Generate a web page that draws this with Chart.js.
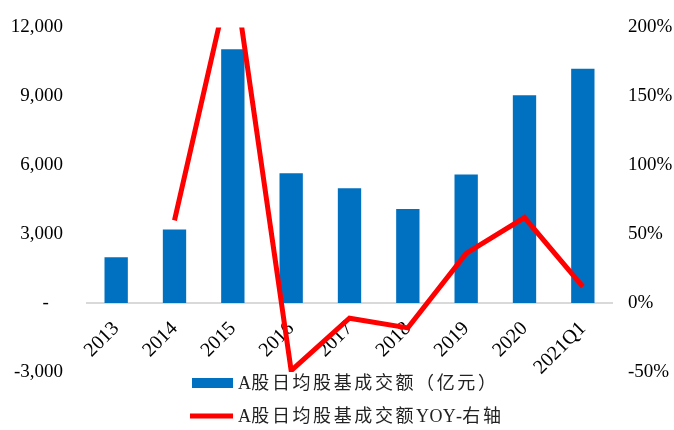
<!DOCTYPE html>
<html>
<head>
<meta charset="utf-8">
<script src="https://cdn.jsdelivr.net/npm/chart.js@4/dist/chart.umd.min.js"></script>
<style>
  html, body { margin: 0; padding: 0; background: #fff; }
</style>
</head>
<body>
<canvas id="myChart" width="674" height="430"></canvas>
<script>
const years = ['2013', '2014', '2015', '2016', '2017', '2018', '2019', '2020', '2021Q1']
const turnover = [2000, 3200, 11050, 5650, 5000, 4100, 5600, 9050, 10200]   // 亿元
const turnoverYoy = [null, 60, 245, -49, -11, -18, 36, 62, 12]               // %
const leftTicks = [-3000, 0, 3000, 6000, 9000, 12000]
const rightTicks = [-50, 0, 50, 100, 150, 200]
const barLabel = 'A股日均股基成交额（亿元）'
const lineLabel = 'A股日均股基成交额YOY-右轴'

const FONT = '"Liberation Serif", "Noto Sans CJK SC", serif'
Chart.defaults.font.family = FONT
Chart.defaults.color = '#000'

// legend drawn under the plot, two stacked rows
const bottomLegend = {
    id: 'bottomLegend',
    afterDraw(chart) {
        const ctx = chart.ctx
        const area = chart.chartArea
        const x0 = area.left + 105
        const textX = x0 + 46
        ctx.save()
        ctx.font = '18px ' + FONT
        ctx.textBaseline = 'middle'

        chart.data.datasets.forEach((ds, i) => {
            const y = area.bottom + 11 + i * 33
            if (ds.type === 'line') {
                ctx.strokeStyle = ds.borderColor
                ctx.lineWidth = ds.borderWidth
                ctx.beginPath()
                ctx.moveTo(x0 - 2, y)
                ctx.lineTo(x0 + 41, y)
                ctx.stroke()
            } else {
                ctx.fillStyle = ds.backgroundColor
                ctx.fillRect(x0, y - 5, 41, 10)
            }
            // CJK glyphs get extra spacing, latin runs stay tight
            ctx.fillStyle = '#222'
            let x = textX
            for (const ch of ds.label) {
                ctx.fillText(ch, x, y + 1)
                x += ctx.measureText(ch).width + (/[\u3000-\u9fff\uff00-\uffef]/.test(ch) ? 2.6 : 0.3)
            }
        })
        ctx.restore()
    }
}

new Chart('myChart', {
    data: {
        labels: years,
        datasets: [{
            type: 'bar',
            label: barLabel,
            data: turnover,
            backgroundColor: '#0070c0',
            barPercentage: 0.4,
            categoryPercentage: 1,
            yAxisID: 'y',
            order: 1
        }, {
            type: 'line',
            label: lineLabel,
            data: turnoverYoy,
            borderColor: '#ff0000',
            borderWidth: 5,
            pointRadius: 0,
            tension: 0,
            clip: 0,
            yAxisID: 'y1',
            order: 0
        }]
    },
    options: {
        responsive: false,
        devicePixelRatio: 1,
        animation: false,
        layout: { padding: { top: 23, bottom: 58, left: 0, right: 0 } },
        plugins: {
            legend: { display: false },
            tooltip: { enabled: false }
        },
        scales: {
            x: {
                position: { y: 0 },
                z: 1,
                grid: { display: false, drawTicks: false },
                border: { color: '#d9d9d9', width: 2 },
                ticks: {
                    maxRotation: 45,
                    minRotation: 45,
                    padding: 14,
                    font: { size: 20 }
                }
            },
            y: {
                position: 'left',
                min: -3000,
                max: 12000,
                grid: { display: false },
                border: { display: false },
                afterBuildTicks: (scale) => { scale.ticks = leftTicks.map(v => ({ value: v })) },
                afterFit: (scale) => { scale.width = 87 },
                ticks: {
                    padding: 16,
                    font: { size: 19 },
                    callback: (v) => v === 0 ? '-   ' : v.toLocaleString('en-US')
                }
            },
            y1: {
                position: 'right',
                min: -50,
                max: 200,
                grid: { display: false },
                border: { display: false },
                afterBuildTicks: (scale) => { scale.ticks = rightTicks.map(v => ({ value: v })) },
                afterFit: (scale) => { scale.width = 62 },
                ticks: {
                    padding: 8,
                    font: { size: 19 },
                    callback: (v) => v + '%'
                }
            }
        }
    },
    plugins: [bottomLegend]
})
</script>
</body>
</html>
